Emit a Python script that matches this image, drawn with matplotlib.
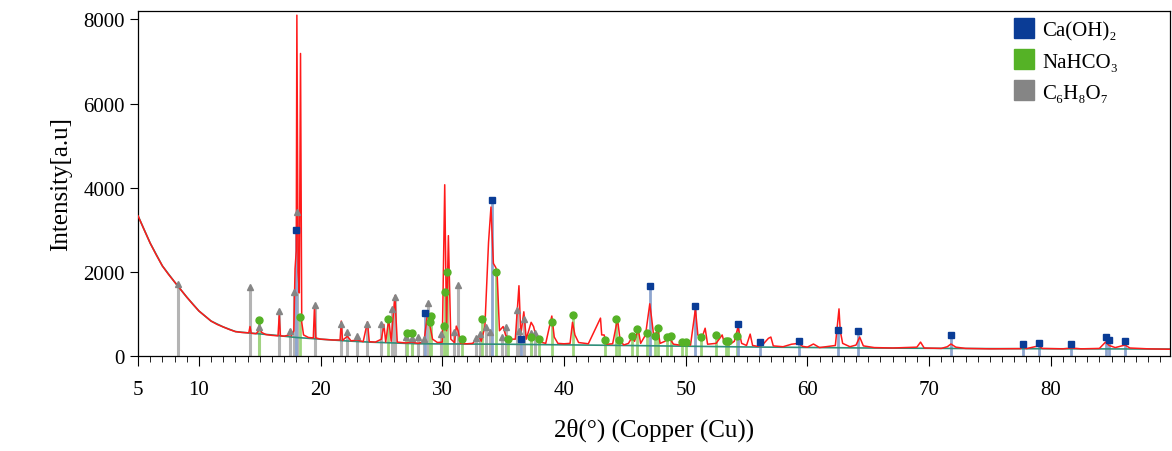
import numpy as np
import matplotlib.pyplot as plt
from matplotlib.lines import Line2D
from matplotlib.ticker import MultipleLocator

plt.rcParams['font.family'] = ['Liberation Serif', 'DejaVu Serif']

two_theta = [5, 5.5, 6, 6.5, 7, 7.5, 8, 8.5, 9, 9.5, 10, 10.5, 11, 11.5, 12, 12.5, 13, 13.5, 14.0,
             14.1, 14.2, 14.3, 14.7, 14.85, 15.0, 15.15, 15.5, 16.0, 16.5, 16.6, 16.7, 17.0, 17.4, 17.5, 17.6,
             17.8, 17.9, 18.0, 18.05, 18.15, 18.25, 18.35, 18.45, 18.6, 19.0, 19.4, 19.5, 19.6, 20.0, 21.0,
             21.6, 21.7, 21.8, 22.2, 22.5, 23.0, 23.5, 23.85, 24.0, 24.5, 25.0, 25.2, 25.35, 25.6, 25.8,
             26.1, 26.3, 27.0, 27.5, 28.0, 28.5, 28.8, 29.0, 29.2, 29.6, 30.0, 30.2, 30.35, 30.5, 30.7,
             31.0, 31.15, 31.3, 31.5, 32.0, 32.5, 33.0, 33.2, 33.5, 33.8, 34.0, 34.2, 34.4, 34.5, 34.7,
             35.0, 35.2, 35.5, 36.0, 36.3, 36.45, 36.7, 36.9, 37.3, 37.5, 37.8, 38.5, 39.0, 39.2, 39.5,
             40.0, 40.5, 40.7, 40.9, 41.2, 42.0, 43.0, 43.1, 43.3, 43.5, 44.0, 44.4, 44.6, 44.9, 45.3,
             45.6, 45.8, 46.1, 46.3, 46.7, 47.05, 47.2, 47.4, 47.7, 47.9, 48.3, 48.6, 49.0, 49.5, 50.0,
             50.4, 50.8, 51.0, 51.3, 51.6, 51.8, 52.5, 53.0, 53.2, 53.6, 54.0, 54.3, 54.6, 55.0, 55.3,
             55.5, 55.9, 56.3, 56.8, 57.0, 57.2, 58.0, 58.7, 59.3, 59.6, 60.0, 60.5, 61.0, 62.3, 62.6,
             62.7, 62.9, 63.5, 64.0, 64.3, 64.6, 65.5, 67.0, 69.0, 69.3, 69.6, 71.0, 71.5, 71.8, 72.2,
             73.0, 75.0, 77.5, 77.7, 78.0, 79.0, 79.3, 81.0, 81.7, 82.5, 84.0, 84.5, 84.8, 85.3, 86.1,
             86.5, 88.0, 89.8]
intensity = [3330, 3000, 2680, 2400, 2140, 1940, 1760, 1580, 1400, 1230, 1070, 950, 830, 750, 690, 630, 580, 560, 550,
             550, 700, 540, 530, 580, 700, 560, 510, 490, 480, 960, 480, 470, 500, 620, 480,
             600, 2070, 2500, 8100, 2000, 1500, 7190, 800, 500, 440, 430, 1190, 430, 400, 380,
             380, 830, 370, 470, 360, 380, 340, 810, 340, 330, 400, 750, 330, 880, 350,
             1430, 330, 310, 330, 300, 340, 1050, 700, 400, 320, 330, 4070, 600, 2860, 400,
             320, 710, 600, 300, 290, 300, 480, 350, 700, 2700, 3540, 2200, 2100, 2000, 600,
             700, 500, 400, 400, 1670, 500, 1050, 400, 800, 700, 350, 300, 950, 450, 300,
             290, 300, 800, 500, 320, 290, 900, 500, 500, 280, 290, 880, 400, 260, 300,
             450, 350, 640, 300, 500, 1240, 900, 400, 650, 300, 350, 450, 280, 260, 280,
             260, 1120, 500, 400, 660, 280, 300, 500, 280, 270, 350, 690, 300, 250, 520,
             250, 230, 260, 420, 450, 240, 220, 280, 300, 230, 210, 285, 200, 250, 1120,
             600, 300, 220, 260, 450, 240, 200, 190, 210, 330, 190, 180, 220, 285, 210,
             180, 170, 175, 220, 175, 240, 180, 170, 190, 170, 180, 330, 250, 200, 260,
             190, 170, 160]

# fitted background
bg_theta = [5, 6, 7, 8, 9, 10, 11, 12, 13, 14, 16, 18, 20, 22, 24, 26, 28, 35, 45, 55, 65, 75, 89.8]
bg_int = [3330, 2680, 2140, 1760, 1400, 1070, 830, 690, 580, 550, 500, 440, 400, 360, 330, 310, 290, 280, 250, 215, 190, 175, 165]

# reference phases: position, stick height
caoh2_pos = [18.0, 28.6, 34.1, 36.5, 47.1, 50.8, 54.3, 56.1, 59.3, 62.5, 64.2, 71.8, 77.7, 79.0, 81.7, 84.5, 84.75, 86.1]
caoh2_h = [3000, 1020, 3710, 400, 1670, 1190, 760, 330, 360, 620, 600, 500, 285, 310, 285, 450, 380, 360]

nahco3_pos = [14.9, 18.3, 25.5, 27.1, 27.55, 29.0, 29.1, 30.1, 30.2, 30.35, 31.6, 33.3, 34.4, 35.4, 37.3, 37.95,
              39.0, 40.7, 43.4, 44.3, 44.5, 45.6, 46.0, 46.8, 47.5, 47.7, 48.45, 48.8, 49.7, 50.0, 51.3, 52.5,
              53.3, 53.5, 54.2]
nahco3_h = [860, 930, 880, 550, 550, 810, 950, 710, 1520, 2000, 400, 880, 2000, 400, 450, 400,
            810, 970, 380, 880, 380, 480, 640, 550, 480, 660, 450, 480, 340, 340, 450, 500,
            360, 360, 480]

citric_pos = [8.3, 14.2, 14.9, 16.6, 17.45, 17.85, 18.1, 19.5, 21.7, 22.2, 23.0, 23.85, 25.0, 25.9, 26.1,
              27.0, 27.5, 28.0, 28.5, 28.85, 29.9, 31.0, 31.3, 32.8, 33.1, 33.6, 33.9, 34.9, 35.25, 36.1,
              36.3, 36.7, 37.3, 37.6]
citric_h = [1710, 1640, 690, 1070, 600, 1530, 3420, 1210, 760, 570, 480, 760, 760, 1120, 1400,
            450, 430, 450, 400, 1260, 520, 570, 1690, 430, 520, 690, 570, 450, 690, 1100,
            600, 880, 550, 550]

legend_labels = ['Ca(OH)₂', 'NaHCO₃', 'C₆H₈O₇']
blue, green, gray = '#0a3c96', '#55b226', '#858585'

fig = plt.figure(figsize=(11.72, 4.52), dpi=100)
ax = fig.add_axes([0.1178, 0.2102, 0.8805, 0.7633])

ax.vlines(citric_pos, 0, citric_h, color='#b4b4b4', lw=2.2, zorder=1)
ax.vlines(nahco3_pos, 0, nahco3_h, color='#9fd67e', lw=2.0, zorder=1.1)
ax.vlines(caoh2_pos, 0, caoh2_h, color='#8fa6cf', lw=2.0, zorder=1.2)

ax.plot(bg_theta, bg_int, color='#2f8f7a', lw=1.2, zorder=2)
ax.plot(two_theta, intensity, color='#ff1a1a', lw=1.1, zorder=3)

ax.plot(citric_pos, citric_h, ls='none', marker='^', ms=5, color=gray, zorder=4)
ax.plot(nahco3_pos, nahco3_h, ls='none', marker='o', ms=5, color=green, zorder=4)
ax.plot(caoh2_pos, caoh2_h, ls='none', marker='s', ms=5, color=blue, zorder=5)

ax.set_xlim(5, 89.8)
ax.set_ylim(0, 8200)
ax.set_xticks([5, 10, 20, 30, 40, 50, 60, 70, 80])
ax.xaxis.set_minor_locator(MultipleLocator(1))
ax.set_yticks([0, 2000, 4000, 6000, 8000])
ax.tick_params(axis='x', which='major', length=7, labelsize=15, pad=10)
ax.tick_params(axis='x', which='minor', length=4)
ax.tick_params(axis='y', which='major', length=6, labelsize=15)
for s in ax.spines.values():
    s.set_linewidth(0.9)

ax.set_xlabel('2θ(°) (Copper (Cu))', fontsize=18, labelpad=14)
ax.set_ylabel('Intensity[a.u]', fontsize=18, labelpad=8)

handles = [Line2D([], [], ls='none', marker='s', ms=15, color=c) for c in (blue, green, gray)]
ax.legend(handles, legend_labels, loc='upper left', bbox_to_anchor=(0.83, 1.025),
          frameon=False, fontsize=15, handlelength=1.0, handletextpad=0.4, labelspacing=0.55)

fig.savefig('out.png', dpi=100)
